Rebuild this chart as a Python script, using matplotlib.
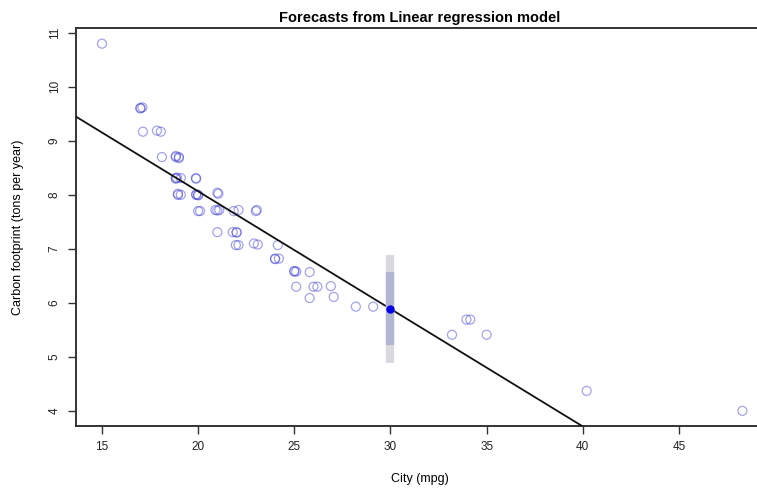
import matplotlib.pyplot as plt

# City mpg vs carbon footprint (repeats = overlapping cars)
city = [15.0, 17.0, 17.0, 17.1, 17.13, 17.86, 18.06, 18.12, 18.84, 18.84, 19.0, 19.0,
        18.84, 18.84, 18.9, 19.1, 19.88, 19.9, 18.95, 18.95, 19.1, 19.9, 19.9, 20.0, 20.0,
        21.0, 21.05, 20.0, 20.1, 20.9, 21.0, 21.1, 21.85, 22.1, 23.05, 23.0, 21.0,
        21.8, 22.0, 22.0, 21.96, 22.1, 22.9, 23.1, 24.14, 24.0, 24.0, 24.2,
        25.0, 25.0, 25.1, 25.8, 25.1, 26.0, 26.2, 26.9, 25.8, 27.05, 28.2, 29.1,
        33.2, 33.95, 34.15, 35.0, 40.2, 48.3]
carbon = [10.8, 9.61, 9.6, 9.62, 9.17, 9.19, 9.17, 8.7, 8.7, 8.72, 8.7, 8.68,
          8.31, 8.3, 8.32, 8.31, 8.31, 8.3, 8.0, 8.02, 8.0, 8.0, 8.01, 8.0, 7.99,
          8.04, 8.02, 7.7, 7.7, 7.72, 7.71, 7.72, 7.7, 7.72, 7.72, 7.7, 7.31,
          7.31, 7.31, 7.3, 7.07, 7.07, 7.1, 7.08, 7.07, 6.82, 6.81, 6.82,
          6.58, 6.59, 6.58, 6.57, 6.3, 6.3, 6.3, 6.31, 6.09, 6.11, 5.93, 5.93,
          5.41, 5.69, 5.69, 5.41, 4.37, 4.0]

# fitted line and forecast at 30 mpg
intercept = 12.42
slope = -0.2177
new_city = 30
forecast = 5.89
pi80 = (5.22, 6.57)
pi95 = (4.89, 6.89)

plt.rcParams['font.family'] = ['Liberation Sans', 'DejaVu Sans']

fig = plt.figure(figsize=(7.57, 4.91), dpi=100)
ax = fig.add_axes([76 / 757, 1 - 426 / 491, 687 / 757, (426 - 28) / 491])

xlim = (13.65, 49.37)
ylim = (3.72, 11.09)

ax.scatter(city, carbon, s=42, facecolors='none', edgecolors='#3535d0',
           linewidths=0.9, alpha=0.45, zorder=2)

ax.plot(xlim, [intercept + slope * x for x in xlim], color='#111111', lw=1.3, zorder=3)

ax.vlines(new_city, pi95[0], pi95[1], color='#d9d9df', lw=6, zorder=4)
ax.vlines(new_city, pi80[0], pi80[1], color='#b3b6d3', lw=6, zorder=5)
ax.plot(new_city, forecast, 'o', color='#0000e8', ms=5, zorder=6)

ax.set_xlim(xlim)
ax.set_ylim(ylim)
ax.set_xticks([15, 20, 25, 30, 35, 40, 45])
ax.set_yticks([4, 5, 6, 7, 8, 9, 10, 11])
for lab in ax.get_yticklabels():
    lab.set_rotation(90)
    lab.set_va('center')

for side in ['left', 'bottom', 'top', 'right']:
    ax.spines[side].set_color('#333333')
    ax.spines[side].set_linewidth(1.4)
ax.tick_params(direction='out', length=6, width=1, color='#333333',
               labelsize=8.5, labelcolor='#222222', pad=5)

ax.set_xlabel('City (mpg)', fontsize=9, labelpad=14)
ax.set_ylabel('Carbon footprint (tons per year)', fontsize=9, labelpad=18)
ax.set_title('Forecasts from Linear regression model', fontsize=10.5,
             fontweight='bold', pad=4)

fig.savefig('out.png', dpi=100)
